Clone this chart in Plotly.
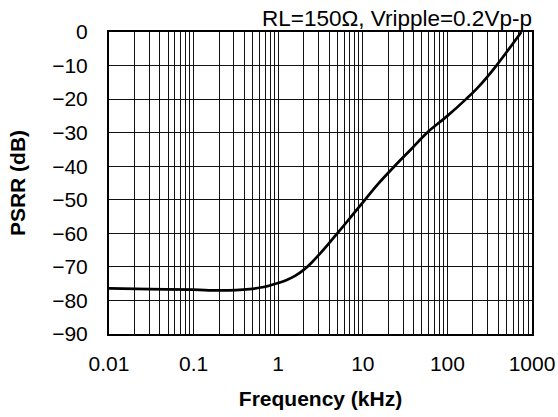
import plotly.graph_objects as go

freq_khz = [0.01, 0.0304, 0.1, 0.21, 0.457, 0.675, 1.0, 1.26, 1.58, 2.0, 2.51, 3.16, 3.98, 5.0, 7.2, 10.6, 15.0, 23.7, 37.0, 57.5, 100, 166, 230, 380, 748]
psrr_db = [-76.4, -76.6, -76.8, -77.0, -76.6, -76.0, -74.8, -73.9, -72.7, -70.9, -68.6, -65.9, -63.0, -60.0, -55.2, -50.0, -45.4, -40.0, -35.0, -30.0, -25.0, -20.0, -16.5, -10.0, 0.0]

x_ticks = [0.01, 0.1, 1, 10, 100, 1000]
x_tick_text = ["0.01", "0.1", "1", "10", "100", "1000"]
y_ticks = [0, -10, -20, -30, -40, -50, -60, -70, -80, -90]

FONT = "Liberation Sans, Arial, Helvetica, sans-serif"

fig = go.Figure()
fig.add_trace(go.Scatter(x=freq_khz, y=psrr_db, mode="lines",
                         line=dict(color="black", width=2.7, shape="spline", smoothing=1.0),
                         showlegend=False, hoverinfo="skip"))

fig.update_layout(
    width=558, height=417,
    margin=dict(l=109, r=26, t=32, b=83, autoexpand=False),
    paper_bgcolor="white", plot_bgcolor="white",
    font=dict(family=FONT, size=21, color="black"),
    xaxis=dict(
        type="log", range=[-2, 3],
        tickvals=x_ticks, ticktext=x_tick_text,
        showgrid=True, gridcolor="#111111", gridwidth=1,
        minor=dict(dtick="D1", showgrid=True, gridcolor="#111111", gridwidth=1, ticks=""),
        showline=True, linecolor="black", linewidth=2, mirror=True,
        ticks="", ticklabelstandoff=10, automargin=False,
        title=dict(text="<b>Frequency (kHz)</b>", font=dict(size=21), standoff=17),
        zeroline=False,
    ),
    yaxis=dict(
        range=[-90, 0], tickvals=y_ticks,
        showgrid=True, gridcolor="#111111", gridwidth=1,
        showline=True, linecolor="black", linewidth=2, mirror=True,
        ticks="", ticklabelstandoff=15, automargin=False,
        title=dict(text="<b>PSRR (dB)</b>", font=dict(size=21), standoff=21),
        zeroline=False,
    ),
    annotations=[dict(text="RL=150Ω, Vripple=0.2Vp-p", xref="paper", yref="paper",
                      x=1.0, y=1.0, xanchor="right", yanchor="bottom",
                      showarrow=False, font=dict(size=22.5), yshift=-1, xshift=2)],
)

fig.write_html("out.html", config={"displayModeBar": False, "staticPlot": True},
               post_script="document.body.style.margin='0';document.body.style.overflow='hidden';")
